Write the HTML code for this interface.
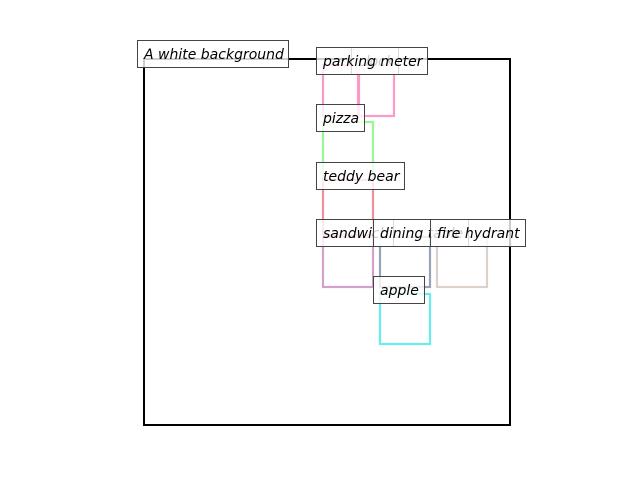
<!DOCTYPE html>
<html><head><style>body{margin:0;background:#fff}</style></head><body>
<svg width="640" height="480" xmlns="http://www.w3.org/2000/svg" font-family="DejaVu Sans, sans-serif" font-style="italic" font-size="14">
<rect x="144" y="59" width="366" height="366" fill="none" stroke="#000" stroke-width="2"/>
<g fill="none" stroke-width="2.2">
<rect x="323" y="65" width="36" height="51" stroke="#f799cc"/>
<rect x="358" y="65" width="36" height="51" stroke="#ff99c8"/>
<rect x="323" y="122" width="50" height="58" stroke="#99f799"/>
<rect x="323" y="180" width="50" height="55" stroke="#f0909a"/>
<rect x="323" y="237" width="50" height="50" stroke="#d4a0cc"/>
<rect x="380" y="237" width="50" height="50" stroke="#99a3b8"/>
<rect x="437" y="237" width="50" height="50" stroke="#dcd0c8"/>
<rect x="380" y="294" width="50" height="50" stroke="#66eeee"/>
</g>
<g stroke="#444" stroke-width="1">
<rect x="137.5" y="40.5" width="151" height="27" fill="rgba(255,255,255,0.8)"/>
<text x="144" y="59" stroke="none" fill="#000">A white background</text>
<rect x="351.5" y="47.5" width="47" height="27" fill="rgba(255,255,255,0.8)"/>
<text x="358" y="66" stroke="none" fill="#000">clock</text>
<rect x="316.5" y="47.5" width="111" height="27" fill="rgba(255,255,255,0.8)"/>
<text x="323" y="66" stroke="none" fill="#000">parking meter</text>
<rect x="316.5" y="104.5" width="48" height="27" fill="rgba(255,255,255,0.8)"/>
<text x="323" y="123" stroke="none" fill="#000">pizza</text>
<rect x="316.5" y="162.5" width="88" height="27" fill="rgba(255,255,255,0.8)"/>
<text x="323" y="181" stroke="none" fill="#000">teddy bear</text>
<rect x="316.5" y="219.5" width="77" height="27" fill="rgba(255,255,255,0.8)"/>
<text x="323" y="238" stroke="none" fill="#000">sandwich</text>
<rect x="373.5" y="219.5" width="95" height="27" fill="rgba(255,255,255,0.8)"/>
<text x="380" y="238" stroke="none" fill="#000">dining table</text>
<rect x="430.5" y="219.5" width="95" height="27" fill="rgba(255,255,255,0.8)"/>
<text x="437" y="238" stroke="none" fill="#000">fire hydrant</text>
<rect x="373.5" y="276.5" width="51" height="27" fill="rgba(255,255,255,0.8)"/>
<text x="380" y="295" stroke="none" fill="#000">apple</text>
</g>
</svg>
</body></html>
